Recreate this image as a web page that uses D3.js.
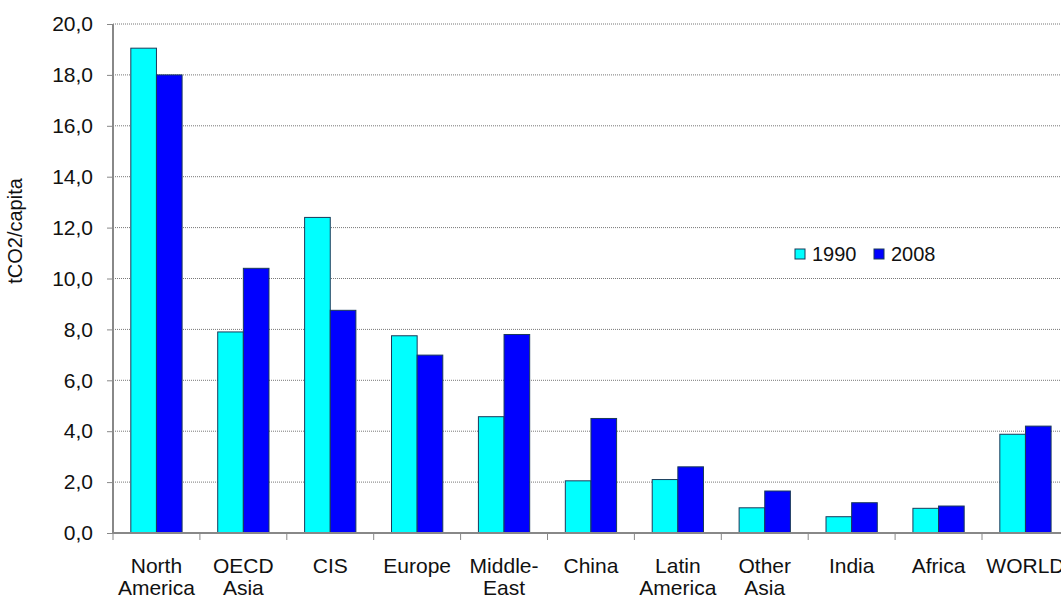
<!DOCTYPE html>
<html><head><meta charset="utf-8">
<script src="https://cdn.jsdelivr.net/npm/d3@7"></script>
<style>body{margin:0;background:#fff;} svg{display:block;font-family:"Liberation Sans",Arial,sans-serif;}</style>
</head><body>
<svg id="c" width="1061" height="601"></svg>
<script>
const categories = [["North","America"],["OECD","Asia"],["CIS"],["Europe"],["Middle-","East"],["China"],["Latin","America"],["Other","Asia"],["India"],["Africa"],["WORLD"]];
const seriesNames = ["1990","2008"];
const values1990 = [19.05,7.9,12.4,7.75,4.57,2.05,2.1,0.99,0.64,0.97,3.88];
const values2008 = [18.0,10.4,8.75,6.99,7.8,4.5,2.6,1.65,1.19,1.06,4.2];
const yTicks = [0,2,4,6,8,10,12,14,16,18,20];
const colors = ["#00ffff","#0000ff"];

const svg = d3.select("#c");
const x0 = 113, x1 = 113 + 11*86.9, yTop = 24, yBot = 533;
const x = d3.scaleBand().domain(d3.range(categories.length)).range([x0,x1]).paddingInner(0.41).paddingOuter(0.205);
const xs = d3.scaleBand().domain([0,1]).range([0,x.bandwidth()]);
const y = d3.scaleLinear().domain([0,20]).range([yBot,yTop]);

// grid
svg.append("g").selectAll("line").data(yTicks.filter(d=>d>0)).join("line")
  .attr("x1",x0).attr("x2",1061).attr("y1",d=>y(d)).attr("y2",d=>y(d))
  .attr("stroke","#777").attr("stroke-width",1).attr("stroke-dasharray","1,1");

// bars
const g = svg.append("g");
categories.forEach((c,i)=>{
  [values1990[i],values2008[i]].forEach((v,j)=>{
    g.append("rect").attr("x",x(i)+xs(j)).attr("width",xs.bandwidth())
      .attr("y",y(v)).attr("height",yBot-y(v))
      .attr("fill",colors[j]).attr("stroke","#1a3a5a").attr("stroke-width",1);
  });
});

// y axis
const ya = svg.append("g").attr("transform",`translate(${x0},0)`)
  .call(d3.axisLeft(y).tickValues(yTicks).tickSize(6).tickPadding(14).tickFormat(d=>d3.format(".1f")(d).replace(".",",")));
ya.select(".domain").attr("stroke","#888").attr("stroke-width",2).attr("d",`M0,${yTop}V${yBot}`);
ya.selectAll(".tick line").attr("stroke","#888");
ya.selectAll("text").attr("font-size",21).attr("fill","#111").style("font-family","Liberation Sans, Arial, sans-serif");

// x axis
const xa = svg.append("g").attr("transform",`translate(0,${yBot})`);
xa.append("line").attr("x1",x0).attr("x2",1061).attr("y1",0).attr("y2",0).attr("stroke","#888").attr("stroke-width",2);
xa.selectAll("line.t").data(d3.range(categories.length+1)).join("line").attr("class","t")
  .attr("x1",i=>x0+i*86.9).attr("x2",i=>x0+i*86.9).attr("y1",0).attr("y2",7).attr("stroke","#888");
categories.forEach((c,i)=>{
  const t = xa.append("text").attr("text-anchor","middle").attr("font-size",21).attr("fill","#111")
    .attr("x",x(i)+x.bandwidth()/2).attr("y",40);
  c.forEach((l,k)=>t.append("tspan").attr("x",x(i)+x.bandwidth()/2).attr("dy",k?22:0).text(l));
});

// y label
svg.append("text").attr("transform","translate(22,231) rotate(-90)").attr("text-anchor","middle")
  .attr("font-size",20).attr("fill","#111").text("tCO2/capita");

// legend
const lg = svg.append("g");
[[795,"1990"],[874,"2008"]].forEach(([lx,t],j)=>{
  lg.append("rect").attr("x",lx).attr("y",249).attr("width",10).attr("height",10).attr("fill",colors[j]).attr("stroke","#1a3a5a");
  lg.append("text").attr("x",lx+17).attr("y",261).attr("font-size",20).attr("fill","#111").text(seriesNames[j]);
});
</script>
</body></html>
